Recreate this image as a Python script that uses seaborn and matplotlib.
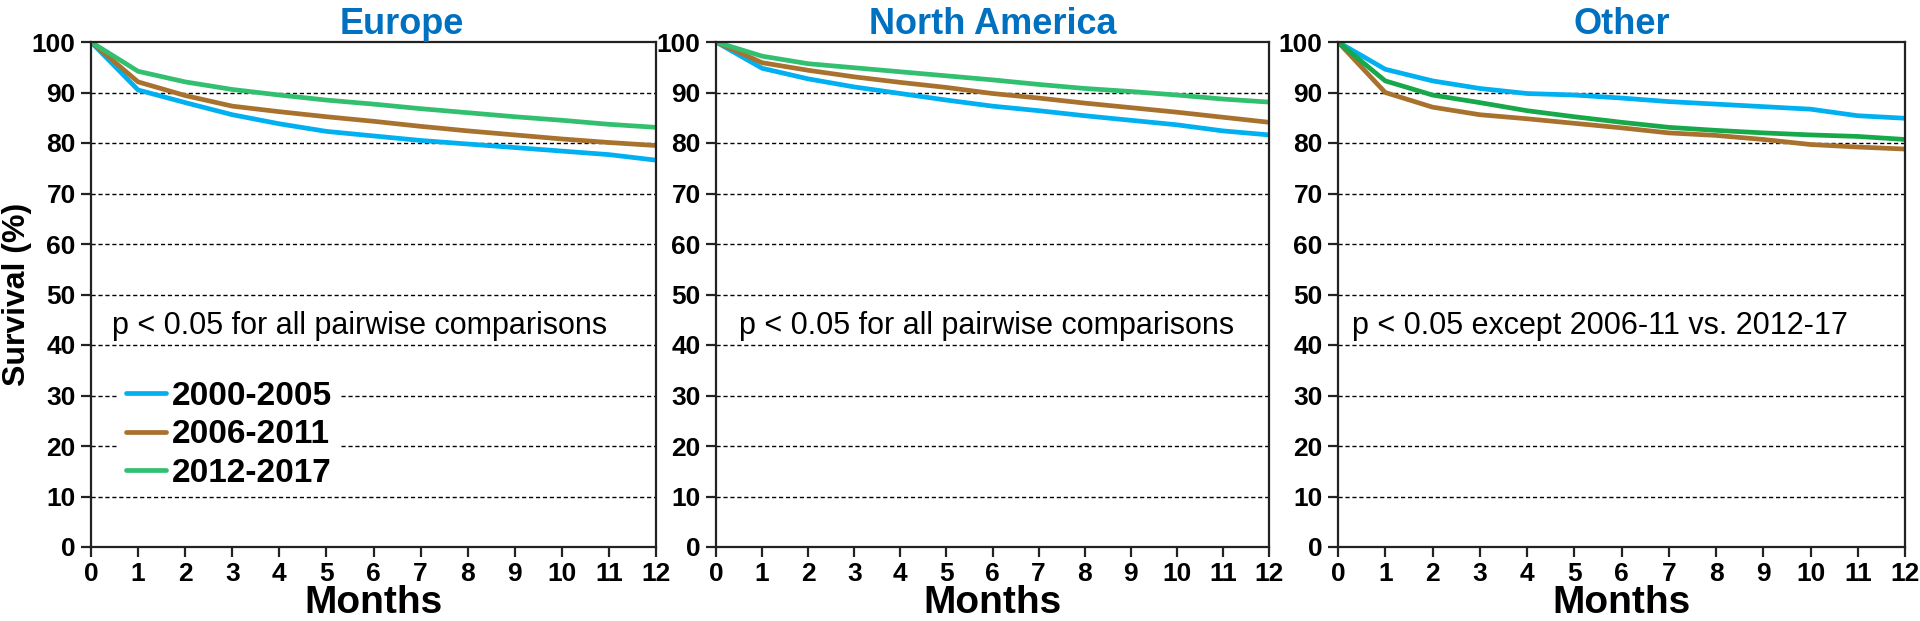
import numpy as np
import pandas as pd
import matplotlib
matplotlib.use("Agg")
import matplotlib.pyplot as plt
import seaborn as sns

# Data (survival % by month)
months = list(range(13))
periods = ["2000-2005", "2006-2011", "2012-2017"]
regions = ["Europe", "North America", "Other"]

europe_2000 = [100, 90.5, 88.0, 85.6, 83.8, 82.3, 81.4, 80.5, 79.8, 79.1, 78.4, 77.7, 76.6]
europe_2006 = [100, 92.1, 89.4, 87.3, 86.2, 85.2, 84.3, 83.3, 82.4, 81.6, 80.8, 80.1, 79.5]
europe_2012 = [100, 94.2, 92.1, 90.6, 89.5, 88.5, 87.7, 86.8, 86.0, 85.2, 84.5, 83.7, 83.1]

na_2000 = [100, 94.8, 92.7, 91.1, 89.8, 88.5, 87.3, 86.4, 85.4, 84.5, 83.6, 82.4, 81.6]
na_2006 = [100, 95.9, 94.4, 93.1, 92.0, 91.0, 89.8, 88.9, 87.9, 87.0, 86.1, 85.1, 84.1]
na_2012 = [100, 97.2, 95.7, 94.9, 94.1, 93.3, 92.5, 91.6, 90.8, 90.2, 89.5, 88.7, 88.1]

other_2000 = [100, 94.6, 92.3, 90.8, 89.8, 89.5, 88.9, 88.2, 87.7, 87.2, 86.7, 85.4, 84.9]
other_2006 = [100, 90.0, 87.1, 85.6, 84.8, 83.9, 83.0, 82.0, 81.5, 80.7, 79.7, 79.2, 78.8]
other_2012 = [100, 92.3, 89.5, 88.0, 86.4, 85.2, 84.1, 83.1, 82.5, 82.0, 81.6, 81.3, 80.7]

notes = ["p < 0.05 for all pairwise comparisons",
         "p < 0.05 for all pairwise comparisons",
         "p < 0.05 except 2006-11 vs. 2012-17"]

# build long-form table
series = {
    "Europe": [europe_2000, europe_2006, europe_2012],
    "North America": [na_2000, na_2006, na_2012],
    "Other": [other_2000, other_2006, other_2012],
}
rows = []
for region in regions:
    for period, vals in zip(periods, series[region]):
        for m, v in zip(months, vals):
            rows.append({"region": region, "period": period, "month": m, "survival": v})
df = pd.DataFrame(rows)

sns.set_style("ticks")
plt.rcParams['font.family'] = ['Liberation Sans', 'DejaVu Sans']
plt.rcParams['text.color'] = 'black'
plt.rcParams['axes.labelcolor'] = 'black'

blue, brown, green, dark_green = "#00b0f0", "#a8722e", "#32c070", "#17a84a"
palettes = [
    {"2000-2005": blue, "2006-2011": brown, "2012-2017": green},
    {"2000-2005": blue, "2006-2011": brown, "2012-2017": green},
    {"2000-2005": blue, "2006-2011": brown, "2012-2017": dark_green},
]

fig = plt.figure(figsize=(19.2, 6.21), dpi=100)
lefts = [91, 716, 1338]
rights = [656, 1269, 1905]
note_x = [0.45, 0.5, 0.3]
title_x = [0.55, 0.5, 0.5]
top, bottom = 42, 547

for i, region in enumerate(regions):
    ax = fig.add_axes([lefts[i] / 1920, 1 - bottom / 621,
                       (rights[i] - lefts[i]) / 1920, (bottom - top) / 621])
    sub = df[df["region"] == region]
    sns.lineplot(data=sub, x="month", y="survival", hue="period",
                 palette=palettes[i], linewidth=3.4, ax=ax,
                 legend=(i == 0))

    ax.set_xlim(0, 12)
    ax.set_ylim(0, 100)
    ax.set_xticks(range(0, 13))
    ax.set_yticks(range(0, 101, 10))
    for y in range(10, 100, 10):
        ax.axhline(y, color="black", linestyle=(0, (3, 2)), linewidth=1.0, zorder=0)
    for s in ax.spines.values():
        s.set_visible(True)
        s.set_color("#222222")
        s.set_linewidth(1.6)
    ax.tick_params(axis="both", direction="out", length=7, width=1.6,
                   labelsize=19, pad=4, color="#222222", labelcolor="black")
    for lbl in ax.get_xticklabels() + ax.get_yticklabels():
        lbl.set_fontweight("bold")

    ax.set_title(region, color="#0070c0", fontsize=26, fontweight="bold",
                 pad=3, x=title_x[i])
    ax.set_xlabel("Months", fontsize=28, fontweight="bold", labelpad=-1)
    if i == 0:
        ax.set_ylabel("Survival (%)", fontsize=23, fontweight="bold")
        ax.yaxis.set_label_coords(-0.105, 0.5)
    else:
        ax.set_ylabel("")

    ax.text(note_x[i], 43.7, notes[i], fontsize=22, va="center", ha="left",
            color="black")

    if i == 0:
        leg = ax.legend(loc="center left", bbox_to_anchor=(0.02, 0.222),
                        frameon=True, fontsize=24, handlelength=1.2,
                        handletextpad=0.2, labelspacing=0.22,
                        borderpad=0.2, title=None)
        leg.get_frame().set_facecolor("white")
        leg.get_frame().set_edgecolor("white")
        leg.get_frame().set_alpha(1)
        for t in leg.get_texts():
            t.set_fontweight("bold")
            t.set_color("black")
        for h in leg.get_lines():
            h.set_linewidth(3.4)
            h.set_solid_capstyle("round")

fig.savefig("out.png", dpi=100)
